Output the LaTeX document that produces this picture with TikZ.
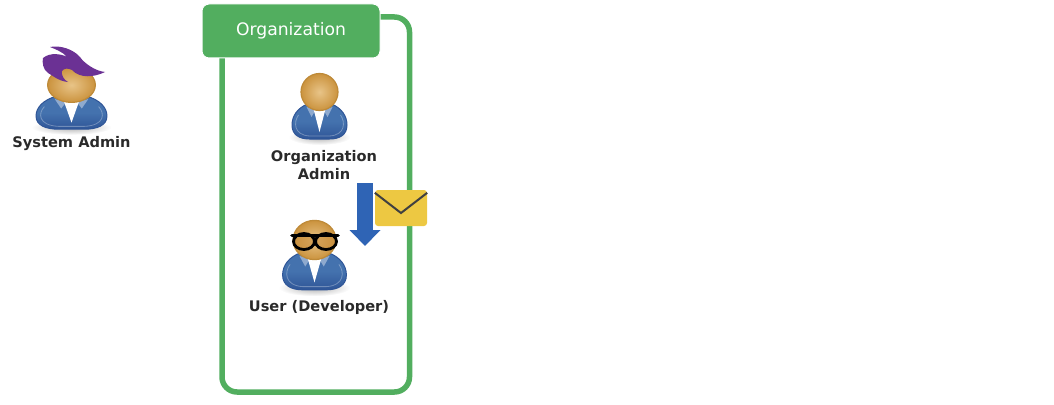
\documentclass[tikz,border=0pt]{standalone}
\usepackage{fontspec}
\setmainfont{DejaVu Sans}
\usetikzlibrary{arrows.meta,calc}
\definecolor{orggreen}{HTML}{52AE5F}
\definecolor{arrowblue}{HTML}{2F64B5}
\definecolor{mailyellow}{HTML}{EDC842}
\definecolor{hairpurple}{HTML}{6B3194}
\definecolor{labelgray}{HTML}{2A2A2A}
\definecolor{suitblue}{HTML}{4472AE}
\definecolor{suitdark}{HTML}{2F5597}
\definecolor{headlight}{HTML}{E8C488}
\definecolor{headdark}{HTML}{CB933E}
\definecolor{headline}{HTML}{BE8A38}
\tikzset{
  personlabel/.style={font=\bfseries\fontsize{14.6}{18}\selectfont,text=labelgray,align=center,inner sep=0pt},
  pics/personicon/.style={code={
    % soft shadow below the body
    \shade[inner color=black!30,outer color=white] (0,45) ellipse (31 and 8);
    % body
    \shade[top color=suitblue,bottom color=suitdark,middle color=suitblue,
           draw=suitdark,line width=1pt]
      (-12,12) .. controls (-22,16) and (-27.5,24) .. (-27.5,33)
      .. controls (-27.5,43) and (-20,47) .. (-10,47) -- (10,47)
      .. controls (20,47) and (27.5,43) .. (27.5,33)
      .. controls (27.5,24) and (22,16) .. (12,12) -- cycle;
    \draw[white,opacity=0.3,line width=0.8pt]
      (-21,23) .. controls (-26,30) and (-26,43) .. (-10,44) -- (10,44)
      .. controls (26,43) and (26,30) .. (21,23);
    % collar and shirt
    \fill[suitblue!60!white] (-13,15) -- (-4,18) -- (-8,25) -- cycle;
    \fill[suitblue!60!white] (13,15) -- (4,18) -- (8,25) -- cycle;
    \fill[white] (-6,17) -- (6,17) -- (0,40) -- cycle;
    % head
    \shade[inner color=headlight,outer color=headdark,
           draw=headline,line width=1.2pt] (0,0) circle (18.5);
  }}
}
\begin{document}
\begin{tikzpicture}[x=1pt,y=-1pt]
  \useasboundingbox (0,0) rectangle (1054,404);

  % organization frame and its title
  \draw[orggreen,line width=5.5pt,rounded corners=15pt] (222,17) rectangle (409.5,392);
  \node[fill=orggreen,draw=white,line width=1pt,rounded corners=7pt,minimum width=178pt,minimum height=54pt,
        text=white,font=\fontsize{17.2}{20}\selectfont] (orgtitle) at (291,31) {Organization};

  % the three people
  \pic[xscale=1.29,yscale=0.94] (sysadmin) at (71.5,85) {personicon};
  \pic (orgadmin) at (319.5,92) {personicon};
  \pic[xscale=1.16,yscale=1.06] (developer) at (314.5,240) {personicon};

  % hair of the system admin
  \fill[hairpurple] (50,47) .. controls (60,45) and (73,49) .. (80,57)
    .. controls (84,63) and (95,71) .. (105,72)
    .. controls (95,77) and (80,79) .. (72,70)
    .. controls (68,68) and (64,68) .. (62,71)
    .. controls (61,75) and (64,80) .. (68,82)
    .. controls (58,81) and (52,75) .. (48,73)
    .. controls (43,70) and (42,62) .. (43,58)
    .. controls (50,52) and (62,54) .. (67,57)
    .. controls (63,52) and (55,49) .. (50,47) -- cycle;

  % glasses of the developer
  \fill[headdark!80!brown,opacity=0.6] (304,241.5) ellipse (10 and 8);
  \fill[headdark!80!brown,opacity=0.6] (326,241.5) ellipse (10 and 8);
  \draw[black,line width=2.8pt] (304,241.5) ellipse (10.5 and 8);
  \draw[black,line width=2.8pt] (326,241.5) ellipse (10.5 and 8);
  \draw[black,line width=3.6pt,line cap=round] (292,235.5) -- (338,235.5);

  % labels
  \node[personlabel] (sysadminlabel) at (71.5,144) {System Admin};
  \node[personlabel] (orgadminlabel) at (324,165) {Organization\\Admin};
  \node[personlabel] (developerlabel) at (319,307) {User (Developer)};

  % invitation arrow and mail
  \coordinate (arrowstart) at (365,183);
  \coordinate (arrowend) at (365,246);
  \draw[arrowblue,line width=16pt,-{Triangle[width=30pt,length=16pt]}] (arrowstart) -- (arrowend);
  \node[fill=mailyellow,rounded corners=3pt,minimum width=52pt,minimum height=36pt,inner sep=0pt] (mail) at (401,208) {};
  \draw[black!75,line width=2pt] ($(mail.north west)+(0,3)$) -- ($(mail.center)+(0,5)$) -- ($(mail.north east)+(0,3)$);
\end{tikzpicture}
\end{document}
